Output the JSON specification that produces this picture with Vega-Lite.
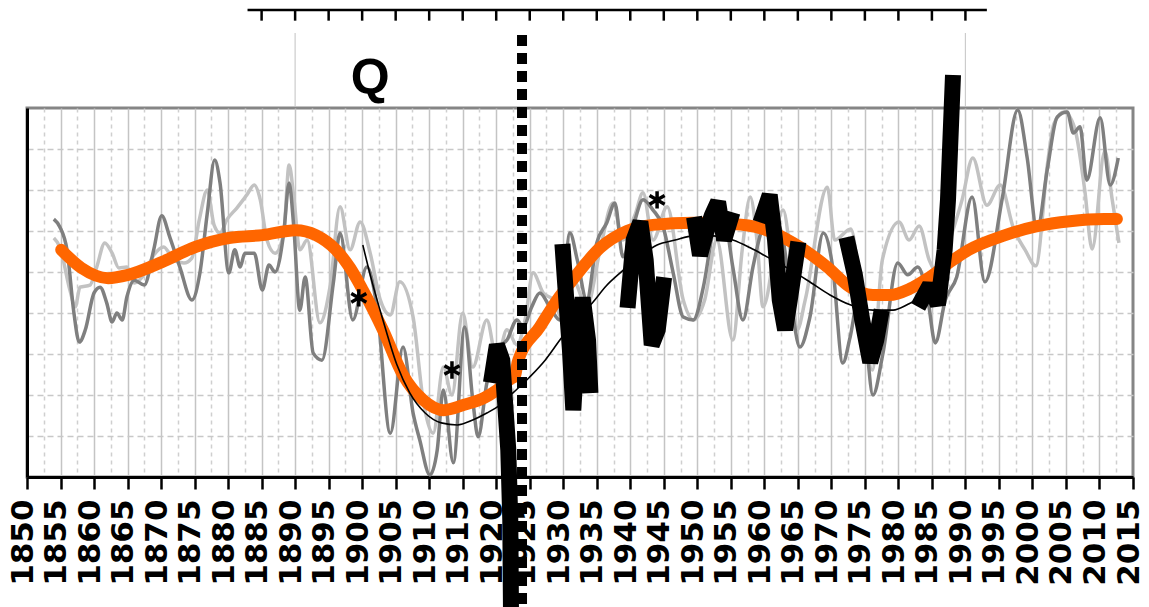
{
  "$schema": "https://vega.github.io/schema/vega-lite/v6.json",
  "width": 1106,
  "height": 369,
  "autosize": {"type": "none"},
  "padding": {"left": 27, "top": 108, "right": 16, "bottom": 130},
  "background": "white",
  "config": {"view": {"stroke": "#858585", "strokeWidth": 3}},
  "datasets": {
    "light": [
      {"yr":1854.0,"v":58.3},{"yr":1854.9,"v":56.1},{"yr":1856.4,"v":45.6},{"yr":1857.2,"v":41.5},{"yr":1857.9,"v":46.3},{"yr":1859.4,"v":46.8},{"yr":1860.4,"v":51.2},{"yr":1861.6,"v":57.1},{"yr":1862.7,"v":54.6},{"yr":1863.7,"v":51.0},{"yr":1864.9,"v":51.2},{"yr":1866.0,"v":47.3},{"yr":1867.2,"v":48.8},{"yr":1868.9,"v":54.1},{"yr":1870.4,"v":56.1},{"yr":1871.9,"v":52.9},{"yr":1873.4,"v":52.2},{"yr":1874.6,"v":53.4},{"yr":1875.7,"v":62.7},{"yr":1876.9,"v":70.0},{"yr":1877.9,"v":61.5},{"yr":1878.8,"v":59.5},{"yr":1879.8,"v":62.7},{"yr":1881.3,"v":65.6},{"yr":1882.8,"v":68.8},{"yr":1883.9,"v":71.2},{"yr":1884.8,"v":67.6},{"yr":1885.8,"v":57.8},{"yr":1887.0,"v":54.6},{"yr":1888.3,"v":59.5},{"yr":1889.1,"v":76.1},{"yr":1889.8,"v":68.3},{"yr":1890.7,"v":55.4},{"yr":1891.8,"v":57.8},{"yr":1893.7,"v":37.6},{"yr":1895.2,"v":46.3},{"yr":1896.7,"v":65.9},{"yr":1898.2,"v":55.4},{"yr":1899.7,"v":62.2},{"yr":1901.2,"v":54.6},{"yr":1902.7,"v":43.2},{"yr":1904.2,"v":39.5},{"yr":1905.6,"v":47.6},{"yr":1907.6,"v":39.0},{"yr":1909.1,"v":18.8},{"yr":1910.6,"v":10.7},{"yr":1912.1,"v":26.8},{"yr":1913.4,"v":20.0},{"yr":1915.0,"v":40.0},{"yr":1916.5,"v":26.8},{"yr":1918.6,"v":38.3},{"yr":1920.1,"v":28.5},{"yr":1921.6,"v":35.9},{"yr":1923.1,"v":32.2},{"yr":1924.3,"v":38.3},{"yr":1925.5,"v":49.8},{"yr":1927.0,"v":44.9},{"yr":1928.5,"v":43.2},{"yr":1930.0,"v":38.3},{"yr":1931.5,"v":48.0},{"yr":1933.5,"v":41.5},{"yr":1935.5,"v":55.4},{"yr":1937.4,"v":66.8},{"yr":1938.9,"v":57.8},{"yr":1940.7,"v":63.9},{"yr":1941.9,"v":69.3},{"yr":1943.4,"v":57.8},{"yr":1945.5,"v":65.9},{"yr":1947.9,"v":43.2},{"yr":1949.4,"v":38.3},{"yr":1951.1,"v":43.2},{"yr":1952.9,"v":57.8},{"yr":1955.3,"v":33.4},{"yr":1956.7,"v":55.4},{"yr":1957.9,"v":68.3},{"yr":1958.9,"v":57.8},{"yr":1959.8,"v":41.5},{"yr":1962.8,"v":65.1},{"yr":1963.8,"v":55.4},{"yr":1964.9,"v":35.9},{"yr":1966.1,"v":43.2},{"yr":1969.4,"v":70.7},{"yr":1970.5,"v":57.8},{"yr":1972.9,"v":60.5},{"yr":1974.6,"v":41.5},{"yr":1976.1,"v":26.1},{"yr":1977.6,"v":52.9},{"yr":1980.1,"v":62.2},{"yr":1981.6,"v":57.8},{"yr":1983.1,"v":61.2},{"yr":1984.6,"v":52.9},{"yr":1986.2,"v":49.3},{"yr":1987.7,"v":57.8},{"yr":1989.5,"v":67.6},{"yr":1991.1,"v":77.8},{"yr":1993.2,"v":66.3},{"yr":1995.2,"v":71.2},{"yr":1997.2,"v":60.5},{"yr":1998.9,"v":55.4},{"yr":2000.5,"v":51.5},{"yr":2002.3,"v":77.1},{"yr":2003.2,"v":86.1},{"yr":2004.7,"v":89.0},{"yr":2006.3,"v":85.1},{"yr":2007.8,"v":70.0},{"yr":2008.9,"v":55.6},{"yr":2010.8,"v":79.5},{"yr":2011.9,"v":67.6},{"yr":2012.9,"v":57.1}
    ],
    "dark": [
      {"yr":1854.0,"v":62.9},{"yr":1854.9,"v":61.0},{"yr":1856.0,"v":55.1},{"yr":1857.0,"v":40.0},{"yr":1857.8,"v":32.9},{"yr":1858.7,"v":35.9},{"yr":1860.0,"v":44.9},{"yr":1860.9,"v":46.3},{"yr":1861.9,"v":42.4},{"yr":1862.7,"v":37.8},{"yr":1863.4,"v":40.0},{"yr":1864.2,"v":38.3},{"yr":1864.9,"v":43.9},{"yr":1866.0,"v":48.0},{"yr":1867.5,"v":46.8},{"yr":1868.9,"v":55.4},{"yr":1870.1,"v":63.7},{"yr":1871.3,"v":58.5},{"yr":1872.8,"v":51.2},{"yr":1874.6,"v":43.2},{"yr":1875.8,"v":49.8},{"yr":1876.9,"v":64.4},{"yr":1878.0,"v":77.3},{"yr":1878.8,"v":71.7},{"yr":1880.1,"v":49.8},{"yr":1881.0,"v":55.4},{"yr":1881.8,"v":51.2},{"yr":1882.5,"v":54.6},{"yr":1883.9,"v":54.6},{"yr":1885.1,"v":45.6},{"yr":1886.1,"v":51.7},{"yr":1887.0,"v":50.0},{"yr":1888.3,"v":59.5},{"yr":1889.1,"v":71.7},{"yr":1889.8,"v":61.0},{"yr":1890.7,"v":40.7},{"yr":1891.5,"v":48.8},{"yr":1892.7,"v":30.2},{"yr":1894.0,"v":28.5},{"yr":1895.7,"v":47.3},{"yr":1896.7,"v":59.5},{"yr":1898.6,"v":38.3},{"yr":1900.7,"v":51.2},{"yr":1902.2,"v":41.5},{"yr":1904.2,"v":10.7},{"yr":1906.1,"v":31.7},{"yr":1907.6,"v":15.6},{"yr":1908.6,"v":9.0},{"yr":1910.1,"v":0.5},{"yr":1911.2,"v":6.6},{"yr":1912.1,"v":21.2},{"yr":1913.6,"v":3.5},{"yr":1915.3,"v":36.6},{"yr":1916.5,"v":18.8},{"yr":1917.3,"v":9.8},{"yr":1918.6,"v":22.9},{"yr":1920.1,"v":31.0},{"yr":1921.6,"v":33.4},{"yr":1923.1,"v":38.3},{"yr":1924.0,"v":36.6},{"yr":1925.3,"v":41.5},{"yr":1926.5,"v":44.9},{"yr":1928.0,"v":41.5},{"yr":1929.5,"v":38.3},{"yr":1931.0,"v":59.5},{"yr":1932.1,"v":52.9},{"yr":1933.5,"v":43.2},{"yr":1935.0,"v":57.1},{"yr":1936.5,"v":62.0},{"yr":1937.7,"v":66.8},{"yr":1938.9,"v":53.7},{"yr":1940.4,"v":61.0},{"yr":1941.9,"v":67.6},{"yr":1943.4,"v":65.1},{"yr":1944.9,"v":61.0},{"yr":1946.4,"v":49.8},{"yr":1947.9,"v":39.0},{"yr":1949.4,"v":38.3},{"yr":1950.9,"v":46.3},{"yr":1952.3,"v":59.5},{"yr":1953.8,"v":65.1},{"yr":1955.3,"v":51.2},{"yr":1956.8,"v":38.3},{"yr":1958.3,"v":51.2},{"yr":1959.8,"v":61.0},{"yr":1961.3,"v":63.4},{"yr":1962.8,"v":57.8},{"yr":1964.3,"v":39.0},{"yr":1965.3,"v":31.7},{"yr":1966.8,"v":39.0},{"yr":1968.8,"v":59.5},{"yr":1970.2,"v":51.2},{"yr":1971.7,"v":27.8},{"yr":1972.8,"v":34.1},{"yr":1974.0,"v":43.2},{"yr":1975.0,"v":35.9},{"yr":1976.2,"v":20.0},{"yr":1977.7,"v":30.2},{"yr":1979.9,"v":52.2},{"yr":1981.4,"v":49.3},{"yr":1982.9,"v":51.2},{"yr":1984.4,"v":43.2},{"yr":1985.5,"v":32.7},{"yr":1987.0,"v":43.2},{"yr":1988.7,"v":48.8},{"yr":1991.0,"v":68.3},{"yr":1992.9,"v":47.6},{"yr":1995.5,"v":68.0},{"yr":1997.8,"v":89.5},{"yr":1999.2,"v":78.0},{"yr":2000.7,"v":60.2},{"yr":2002.2,"v":74.9},{"yr":2003.7,"v":87.8},{"yr":2005.2,"v":89.0},{"yr":2006.1,"v":83.9},{"yr":2007.1,"v":85.4},{"yr":2008.1,"v":72.4},{"yr":2010.1,"v":87.6},{"yr":2011.6,"v":71.2},{"yr":2012.8,"v":77.8}
    ],
    "orange": [
      {"yr":1855.1,"v":55.4},{"yr":1858.1,"v":51.0},{"yr":1862.1,"v":48.5},{"yr":1865.1,"v":49.3},{"yr":1870.1,"v":52.4},{"yr":1875.1,"v":56.1},{"yr":1880.1,"v":58.3},{"yr":1885.1,"v":59.0},{"yr":1890.1,"v":60.2},{"yr":1893.1,"v":59.0},{"yr":1896.1,"v":55.4},{"yr":1898.2,"v":51.0},{"yr":1900.1,"v":45.6},{"yr":1903.1,"v":35.9},{"yr":1906.1,"v":24.9},{"yr":1909.1,"v":18.8},{"yr":1912.2,"v":16.3},{"yr":1915.2,"v":17.6},{"yr":1918.2,"v":19.3},{"yr":1920.1,"v":21.2},{"yr":1922.2,"v":24.0},{"yr":1922.8,"v":24.6},{"yr":1923.2,"v":28.0},{"yr":1926.5,"v":36.6},{"yr":1929.1,"v":43.2},{"yr":1931.5,"v":48.3},{"yr":1935.5,"v":55.9},{"yr":1939.5,"v":60.0},{"yr":1943.4,"v":61.5},{"yr":1949.4,"v":62.0},{"yr":1955.3,"v":61.7},{"yr":1959.4,"v":60.7},{"yr":1964.3,"v":57.1},{"yr":1969.4,"v":51.2},{"yr":1972.8,"v":46.3},{"yr":1976.2,"v":44.4},{"yr":1978.7,"v":44.4},{"yr":1981.7,"v":45.9},{"yr":1984.7,"v":48.8},{"yr":1988.4,"v":53.2},{"yr":1990.5,"v":55.4},{"yr":1995.6,"v":58.8},{"yr":2000.7,"v":61.2},{"yr":2005.6,"v":62.4},{"yr":2010.7,"v":62.9},{"yr":2012.6,"v":62.9}
    ],
    "thin": [
      {"yr":1900.1,"v":56.6},{"yr":1901.2,"v":49.3},{"yr":1903.1,"v":38.3},{"yr":1905.2,"v":27.3},{"yr":1907.1,"v":20.5},{"yr":1909.4,"v":15.6},{"yr":1911.8,"v":13.2},{"yr":1914.2,"v":12.7},{"yr":1916.5,"v":13.9},{"yr":1918.6,"v":15.6},{"yr":1920.6,"v":17.6},{"yr":1922.5,"v":20.5},{"yr":1925.0,"v":24.4},{"yr":1927.3,"v":28.5},{"yr":1929.5,"v":33.4},{"yr":1932.1,"v":38.8},{"yr":1934.3,"v":42.4},{"yr":1936.4,"v":46.6},{"yr":1938.5,"v":49.8},{"yr":1941.5,"v":53.9},{"yr":1944.0,"v":56.6},{"yr":1946.7,"v":57.8},{"yr":1949.4,"v":58.8},{"yr":1952.3,"v":58.8},{"yr":1955.3,"v":57.8},{"yr":1957.9,"v":55.9},{"yr":1960.4,"v":53.7},{"yr":1963.4,"v":51.0},{"yr":1966.4,"v":48.0},{"yr":1969.8,"v":44.4},{"yr":1972.8,"v":42.0},{"yr":1976.2,"v":40.7},{"yr":1979.2,"v":40.7},{"yr":1981.3,"v":42.0},{"yr":1983.2,"v":43.9},{"yr":1984.7,"v":46.8}
    ],
    "blocks": [
      {"seg":1,"yr":1919.4,"v":24.9},{"seg":1,"yr":1920.1,"v":32.2},{"seg":1,"yr":1920.9,"v":28.5},{"seg":1,"yr":1921.3,"v":18.8},{"seg":1,"yr":1921.8,"v":6.6},{"seg":1,"yr":1922.1,"v":-10.5},{"seg":1,"yr":1922.2,"v":-31.7},
      {"seg":2,"yr":1929.96,"v":54.9},{"seg":2,"yr":1930.4,"v":44.5},{"seg":2,"yr":1931.0,"v":31.0},{"seg":2,"yr":1931.5,"v":16.3},{"seg":2,"yr":1932.2,"v":35.9},{"seg":2,"yr":1932.9,"v":43.7},{"seg":2,"yr":1933.7,"v":33.4},{"seg":2,"yr":1934.0,"v":22.4},
      {"seg":3,"yr":1939.7,"v":43.2},{"seg":3,"yr":1940.5,"v":57.8},{"seg":3,"yr":1941.5,"v":62.2},{"seg":3,"yr":1942.3,"v":52.9},{"seg":3,"yr":1943.2,"v":32.2},{"seg":3,"yr":1944.1,"v":35.9},{"seg":3,"yr":1944.9,"v":46.8},
      {"seg":4,"yr":1949.7,"v":61.5},{"seg":4,"yr":1950.4,"v":54.1},{"seg":4,"yr":1951.4,"v":60.2},{"seg":4,"yr":1952.2,"v":63.9},{"seg":4,"yr":1953.1,"v":67.1},{"seg":4,"yr":1954.0,"v":57.8},{"seg":4,"yr":1954.9,"v":62.7},
      {"seg":5,"yr":1959.8,"v":63.9},{"seg":5,"yr":1960.8,"v":68.8},{"seg":5,"yr":1961.6,"v":57.8},{"seg":5,"yr":1962.3,"v":43.2},{"seg":5,"yr":1963.1,"v":35.9},{"seg":5,"yr":1963.8,"v":43.2},{"seg":5,"yr":1964.9,"v":55.4},
      {"seg":6,"yr":1972.5,"v":56.6},{"seg":6,"yr":1973.5,"v":49.3},{"seg":6,"yr":1974.6,"v":38.3},{"seg":6,"yr":1975.8,"v":28.0},{"seg":6,"yr":1976.7,"v":33.4},{"seg":6,"yr":1977.3,"v":38.8},
      {"seg":7,"yr":1983.5,"v":43.2},{"seg":7,"yr":1984.7,"v":46.8},{"seg":7,"yr":1985.9,"v":42.0},{"seg":7,"yr":1986.9,"v":55.4},{"seg":7,"yr":1987.4,"v":67.6},{"seg":7,"yr":1987.7,"v":79.8},{"seg":7,"yr":1988.1,"v":96.1}
    ],
    "stars": [
      {"yr":1899.5,"v":43.7},{"yr":1913.4,"v":26.1},{"yr":1944.0,"v":67.6}
    ],
    "topticks": [
      {"yr":1885,"v":113.9,"v2":111.3},{"yr":1890,"v":113.9,"v2":111.3},{"yr":1895,"v":113.9,"v2":111.3},{"yr":1900,"v":113.9,"v2":111.3},{"yr":1905,"v":113.9,"v2":111.3},{"yr":1910,"v":113.9,"v2":111.3},{"yr":1915,"v":113.9,"v2":111.3},{"yr":1920,"v":113.9,"v2":111.3},{"yr":1925,"v":113.9,"v2":111.3},{"yr":1930,"v":113.9,"v2":111.3},{"yr":1935,"v":113.9,"v2":111.3},{"yr":1940,"v":113.9,"v2":111.3},{"yr":1945,"v":113.9,"v2":111.3},{"yr":1950,"v":113.9,"v2":111.3},{"yr":1955,"v":113.9,"v2":111.3},{"yr":1960,"v":113.9,"v2":111.3},{"yr":1965,"v":113.9,"v2":111.3},{"yr":1970,"v":113.9,"v2":111.3},{"yr":1975,"v":113.9,"v2":111.3},{"yr":1980,"v":113.9,"v2":111.3},{"yr":1985,"v":113.9,"v2":111.3},{"yr":1990,"v":113.9,"v2":111.3}
    ]
  },
  "encoding": {
    "x": {"field": "yr", "type": "quantitative", "scale": {"domain": [1850, 2015], "nice": false, "zero": false},
      "axis": {
        "title": null,
        "values": [1850,1852.5,1855,1857.5,1860,1862.5,1865,1867.5,1870,1872.5,1875,1877.5,1880,1882.5,1885,1887.5,1890,1892.5,1895,1897.5,1900,1902.5,1905,1907.5,1910,1912.5,1915,1917.5,1920,1922.5,1925,1927.5,1930,1932.5,1935,1937.5,1940,1942.5,1945,1947.5,1950,1952.5,1955,1957.5,1960,1962.5,1965,1967.5,1970,1972.5,1975,1977.5,1980,1982.5,1985,1987.5,1990,1992.5,1995,1997.5,2000,2002.5,2005,2007.5,2010,2012.5,2015],
        "labelExpr": "datum.value % 5 === 0 ? format(datum.value, 'd') : ''",
        "labelAngle": 270,
        "labelFont": "DejaVu Sans",
        "labelFontWeight": "bold",
        "labelFontSize": 31,
        "labelColor": "black",
        "labelPadding": 10,
        "labelOffset": -4,
        "labelOverlap": false,
        "labelFlush": false,
        "labelBound": false,
        "tickColor": "black",
        "tickWidth": 2.5,
        "tickSize": 12,
        "tickOpacity": {"condition": {"test": "datum.value % 5 !== 0", "value": 0}, "value": 1},
        "domainColor": "black",
        "domainWidth": 3,
        "grid": true,
        "gridWidth": 1.5,
        "gridOpacity": {"condition": {"test": "datum.value >= 2015 || datum.value <= 1850", "value": 0}, "value": 1},
        "gridColor": {"condition": {"test": "datum.value % 5 !== 0", "value": "#cfcfcf"}, "value": "#c4c4c4"},
        "gridDash": {"condition": {"test": "datum.value % 5 !== 0", "value": [4, 4]}, "value": []}
      }
    },
    "y": {"field": "v", "type": "quantitative", "scale": {"domain": [0, 90], "nice": false, "zero": false},
      "axis": {
        "title": null,
        "values": [10,20,30,40,50,60,70,80],
        "labels": false,
        "ticks": false,
        "domainColor": "black",
        "domainWidth": 3,
        "grid": true,
        "gridColor": "#c8c8c8",
        "gridWidth": 1.5,
        "gridDash": [6, 4]
      }
    }
  },
  "layer": [
    {
      "data": {"name": "light"},
      "mark": {"type": "line", "color": "#c2c2c2", "strokeWidth": 3.5, "interpolate": "monotone"}
    },
    {
      "data": {"name": "dark"},
      "mark": {"type": "line", "color": "#7f7f7f", "strokeWidth": 3.5, "interpolate": "monotone"}
    },
    {
      "data": {"name": "orange"},
      "mark": {"type": "line", "color": "#ff6600", "strokeWidth": 12, "strokeCap": "round", "interpolate": "monotone"}
    },
    {
      "data": {"name": "thin"},
      "mark": {"type": "line", "color": "black", "strokeWidth": 1.6, "interpolate": "monotone"}
    },
    {
      "data": {"name": "blocks"},
      "mark": {"type": "line", "color": "black", "strokeWidth": 16, "strokeJoin": "miter", "strokeMiterLimit": 2, "strokeCap": "square"},
      "encoding": {
        "detail": {"field": "seg", "type": "nominal"}
      }
    },
    {
      "data": {"values": [{"yr": 1923.85, "v": 107.8, "v2": -31.7}]},
      "mark": {"type": "rule", "color": "black", "strokeWidth": 10, "strokeDash": [11, 7]},
      "encoding": {
        "y2": {"field": "v2"}
      }
    },
    {
      "data": {"name": "stars"},
      "mark": {"type": "point", "shape": "M0,-1L0,1M-0.87,-0.5L0.87,0.5M-0.87,0.5L0.87,-0.5", "filled": false, "color": "black", "strokeWidth": 3.5, "size": 300, "opacity": 1}
    },
    {
      "data": {"values": [{"yr": 1882.9, "x2": 1993.2, "v": 113.9}]},
      "mark": {"type": "rule", "color": "black", "strokeWidth": 2.5},
      "encoding": {
        "x2": {"field": "x2"}
      }
    },
    {
      "data": {"name": "topticks"},
      "mark": {"type": "rule", "color": "black", "strokeWidth": 2.5},
      "encoding": {
        "y2": {"field": "v2"}
      }
    },
    {
      "data": {"values": [{"yr": 1890, "v": 108.3, "v2": 90.5}, {"yr": 1990, "v": 108.3, "v2": 90.5}]},
      "mark": {"type": "rule", "color": "#cccccc", "strokeWidth": 1.2},
      "encoding": {
        "y2": {"field": "v2"}
      }
    },
    {
      "data": {"values": [{"yr": 1901.2, "v": 93.4, "t": "Q"}]},
      "mark": {"type": "text", "font": "Liberation Sans", "fontWeight": "bold", "fontSize": 50, "color": "black", "align": "center", "baseline": "alphabetic"},
      "encoding": {
        "text": {"field": "t"}
      }
    }
  ]
}
